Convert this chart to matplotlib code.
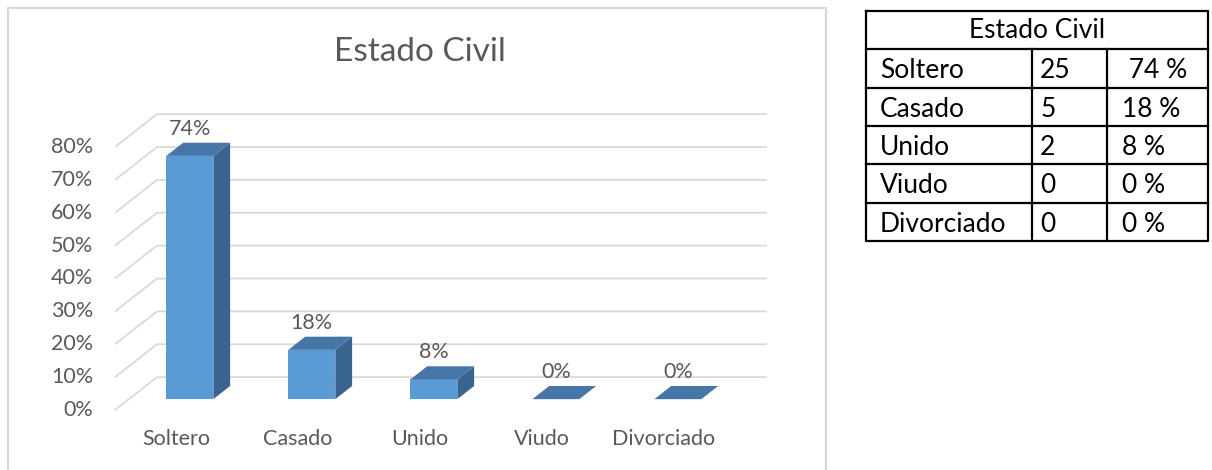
import matplotlib.pyplot as plt
from matplotlib.patches import Polygon
from matplotlib.lines import Line2D

plt.rcParams['font.family'] = ['Lato', 'DejaVu Sans']

# chart data
categories = ['Soltero', 'Casado', 'Unido', 'Viudo', 'Divorciado']
bar_values = [0.74, 0.15, 0.06, 0.0, 0.0]
bar_labels = ['74%', '18%', '8%', '0%', '0%']
y_ticks = [0.0, 0.1, 0.2, 0.3, 0.4, 0.5, 0.6, 0.7, 0.8]
y_tick_labels = ['0%', '10%', '20%', '30%', '40%', '50%', '60%', '70%', '80%']

# table data
table_title = 'Estado Civil'
table_names = ['Soltero', 'Casado', 'Unido', 'Viudo', 'Divorciado']
table_counts = ['25', '5', '2', '0', '0']
table_pcts = [' 74 %', '18 %', '8 %', '0 %', '0 %']

# fake 3d: depth shifts points right/up
DX = 0.344   # category units per depth unit
DY = 0.1     # value units per depth unit
D0, D1 = 0.33, 0.73   # bar front / back depth
W = 0.385    # bar width

def proj(x, v, d):
    return (x + d * DX, v + d * DY)

fig = plt.figure(figsize=(12.12, 4.70), dpi=100)
ax = fig.add_axes([0, 0, 1, 1])
ax.set_xlim(-176 / 122, (1212 - 176) / 122)
ax.set_ylim((410 - 470) / 328.75, 410 / 328.75)
ax.axis('off')

grid_c = '#D9D9D9'
text_c = '#595959'
fs = 15.5
x0, x1 = -0.5, len(categories) - 0.5

# gridlines: floor slant + back wall
for t, lab in zip(y_ticks, y_tick_labels):
    p0 = proj(x0, t, 0)
    p1 = proj(x0, t, 1)
    p2 = proj(x1, t, 1)
    ax.plot([p0[0], p1[0], p2[0]], [p0[1], p1[1], p2[1]], color=grid_c, lw=1.3,
            solid_capstyle='butt', zorder=1)
    ax.text(x0 - 0.18, t, lab, ha='right', va='center', fontsize=fs, color=text_c)

# bars
front_c = '#5B9BD5'
top_c = '#4676A8'
side_c = '#3A6490'
for i, (v, lab) in enumerate(zip(bar_values, bar_labels)):
    l, r = i - W / 2, i + W / 2
    side = [proj(r, 0, D0), proj(r, 0, D1), proj(r, v, D1), proj(r, v, D0)]
    top = [proj(l, v, D0), proj(r, v, D0), proj(r, v, D1), proj(l, v, D1)]
    front = [proj(l, 0, D0), proj(r, 0, D0), proj(r, v, D0), proj(l, v, D0)]
    if v > 0:
        ax.add_patch(Polygon(side, closed=True, fc=side_c, ec='none', zorder=3))
        ax.add_patch(Polygon(front, closed=True, fc=front_c, ec='none', zorder=3))
    ax.add_patch(Polygon(top, closed=True, fc=top_c, ec='none', zorder=3))
    lx, ly = proj(i, v, D1)
    ax.annotate(lab, (i + D0 * DX, ly), xytext=(0, 3), textcoords='offset points',
                ha='center', va='bottom', fontsize=fs, color=text_c, zorder=4)
    ax.text(i, -0.087, categories[i], ha='center', va='center', fontsize=fs, color=text_c)

ax.text(2, 1.089, 'Estado Civil', ha='center', va='center', fontsize=24, color=text_c)

# chart border (bottom runs off the image)
fx = lambda px: px / 1212
fy = lambda py: 1 - py / 470
fig.add_artist(Line2D([fx(8), fx(8), fx(826), fx(826)], [0, fy(8), fy(8), 0],
                      color=grid_c, lw=1.6))

# table
tax = fig.add_axes([fx(866), fy(241), fx(1208) - fx(866), (241 - 11) / 470])
tax.set_xlim(0, 1)
tax.set_ylim(6, 0)
tax.axis('off')
c1 = (1032 - 866) / 342
c2 = (1107 - 866) / 342
lw = 1.6
tfs = 19
tax.plot([0, 1, 1, 0, 0], [0, 0, 6, 6, 0], color='black', lw=lw, clip_on=False)
for r in range(1, 6):
    tax.plot([0, 1], [r, r], color='black', lw=lw, clip_on=False)
tax.plot([c1, c1], [1, 6], color='black', lw=lw)
tax.plot([c2, c2], [1, 6], color='black', lw=lw)
tax.text(0.5, 0.52, table_title, ha='center', va='center', fontsize=tfs)
for r, (n, c, p) in enumerate(zip(table_names, table_counts, table_pcts)):
    y = r + 1.56
    tax.text(0.041, y, n, ha='left', va='center', fontsize=tfs)
    tax.text(c1 + 0.024, y, c, ha='left', va='center', fontsize=tfs)
    tax.text(c2 + 0.044, y, p, ha='left', va='center', fontsize=tfs)

fig.savefig('out.png', dpi=100)
